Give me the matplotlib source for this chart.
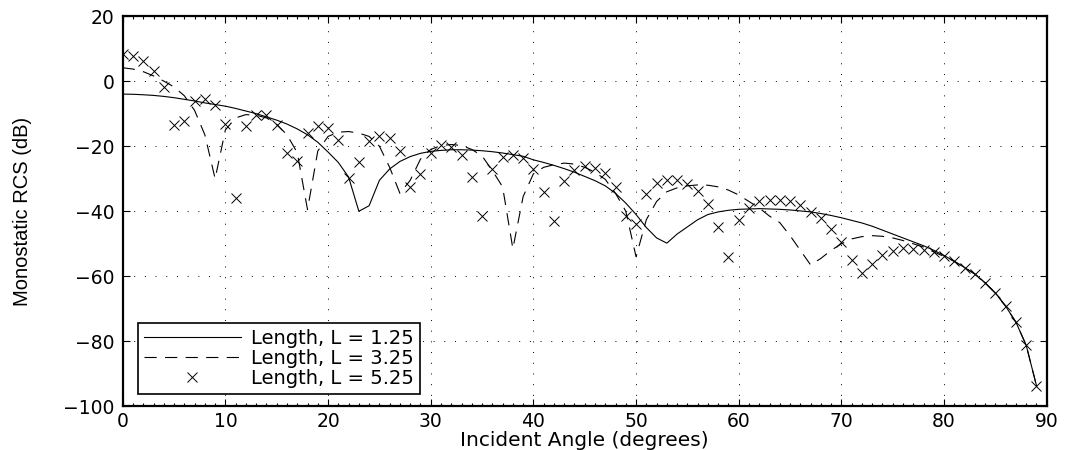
"""
Monostatic RCS versus incident angle for three lengths.
"""

import numpy as np
import matplotlib
matplotlib.use('Agg')
import matplotlib.pyplot as plt

angle = np.arange(0, 90)

# L = 1.25 (solid)
rcs_l125 = [-4.0, -4.05, -4.2, -4.4, -4.7, -5.1, -5.6, -6.1, -6.7, -7.2,
            -7.7, -8.4, -9.2, -10.0, -11.0, -12.0, -13.2, -14.7, -16.5, -18.8,
            -21.8, -25.0, -29.5, -40.0, -38.3, -30.5, -27.0, -24.7, -23.2, -22.2,
            -21.6, -21.3, -21.1, -21.1, -21.2, -21.4, -21.7, -22.1, -22.6, -23.1,
            -24.2, -25.0, -25.9, -26.9, -28.0, -29.3, -30.6, -32.2, -34.5, -37.5,
            -41.0, -45.0, -48.2, -49.8, -47.0, -44.8, -42.6, -41.0, -40.2, -39.7,
            -39.4, -39.3, -39.2, -39.3, -39.4, -39.6, -39.9, -40.2, -40.7, -41.3,
            -42.0, -42.8, -43.6, -44.6, -45.8, -47.0, -48.2, -49.4, -50.6, -52.0,
            -53.6, -55.4, -57.3, -59.3, -62.0, -65.1, -69.2, -74.1, -81.2, -93.6]

# L = 3.25 (dashed)
rcs_l325 = [4.1, 3.7, 2.9, 1.6, 0.0, -1.8, -4.5, -9.0, -16.5, -30.0,
            -15.0, -11.3, -10.3, -10.5, -11.3, -13.3, -16.5, -22.0, -39.5, -21.5,
            -17.0, -15.7, -15.5, -16.0, -17.0, -20.0, -26.5, -34.5, -30.5, -24.0,
            -21.0, -19.8, -19.5, -19.8, -21.0, -23.0, -27.5, -32.5, -51.5, -35.5,
            -28.5, -26.5, -25.7, -25.2, -25.5, -26.5, -28.0, -30.2, -34.5, -40.0,
            -54.0, -42.6, -37.0, -34.0, -32.8, -32.2, -31.9, -32.0, -32.5, -33.5,
            -35.0, -37.0, -39.0, -41.5, -43.5, -47.5, -52.0, -56.5, -54.5, -52.0,
            -50.0, -48.5, -47.8, -47.5, -47.7, -48.2, -49.0, -50.0, -51.0, -52.5,
            -53.9, -55.4, -57.3, -59.3, -62.0, -65.1, -69.2, -74.1, -81.2, -93.6]

# L = 5.25 (crosses)
rcs_l525 = [8.2, 7.7, 6.2, 3.1, -1.9, -13.6, -12.3, -6.0, -5.4, -7.2,
            -13.2, -35.8, -13.9, -10.4, -10.5, -13.6, -22.1, -24.7, -16.0, -13.8,
            -14.5, -18.1, -29.8, -24.9, -18.4, -16.8, -17.5, -21.4, -32.4, -28.6,
            -22.0, -19.6, -20.1, -22.8, -29.5, -41.4, -27.1, -23.2, -22.7, -23.5,
            -27.1, -34.1, -43.1, -30.6, -27.3, -26.0, -26.7, -28.3, -32.6, -41.6,
            -43.8, -34.6, -31.4, -30.3, -30.5, -31.6, -33.7, -37.7, -44.7, -54.2,
            -42.8, -39.0, -37.0, -36.5, -36.5, -37.0, -38.2, -40.1, -42.1, -45.4,
            -49.5, -54.9, -59.0, -56.2, -53.4, -52.1, -51.3, -51.5, -51.8, -52.5,
            -53.7, -55.4, -57.3, -59.3, -62.0, -65.1, -69.2, -74.1, -81.2, -93.6]

labels = ['Length, L = 1.25', 'Length, L = 3.25', 'Length, L = 5.25']

plt.rcParams['font.family'] = ['DejaVu Sans']

fig = plt.figure(figsize=(10.68, 4.5), dpi=100)
ax = fig.add_axes([0.1149, 0.0967, 0.8652, 0.8677])

ax.plot(angle, rcs_l125, color='black', linewidth=0.8, label=labels[0])
ax.plot(angle, rcs_l325, color='black', linewidth=0.8, dashes=(11, 7.5),
        label=labels[1])
ax.plot(angle, rcs_l525, color='black', linestyle='None', marker='x',
        markersize=7.5, markeredgewidth=0.7, label=labels[2])

ax.set_xlim(0, 90)
ax.set_ylim(-100, 20)
ax.set_xticks(np.arange(0, 91, 10))
ax.set_yticks(np.arange(-100, 21, 20))
ax.set_xticks(np.arange(0, 91, 1), minor=True)
ax.tick_params(which='both', direction='in', top=True, right=True,
               labelsize=13.5, width=0.8)
ax.tick_params(which='major', length=5)
ax.tick_params(which='minor', length=2, left=False, right=False)
ax.tick_params(axis='y', pad=6)
ax.tick_params(axis='x', pad=4)
for s in ax.spines.values():
    s.set_linewidth(1.6)

ax.grid(True, which='major', color='black', linestyle=(0, (1, 10)), linewidth=0.7)

ax.set_xlabel('Incident Angle (degrees)', fontsize=14.5, labelpad=0)
ax.set_ylabel('Monostatic RCS (dB)', fontsize=14.5, family='Liberation Sans')
ax.yaxis.set_label_coords(-0.098, 0.5)

leg = ax.legend(loc='lower left', bbox_to_anchor=(0.0166, 0.032), fontsize=14,
                handlelength=5.0, handletextpad=0.5, borderpad=0.3,
                labelspacing=0.05, fancybox=False, framealpha=1,
                edgecolor='black', borderaxespad=0)
leg.get_frame().set_linewidth(1.2)

fig.savefig('out.png', dpi=100)
